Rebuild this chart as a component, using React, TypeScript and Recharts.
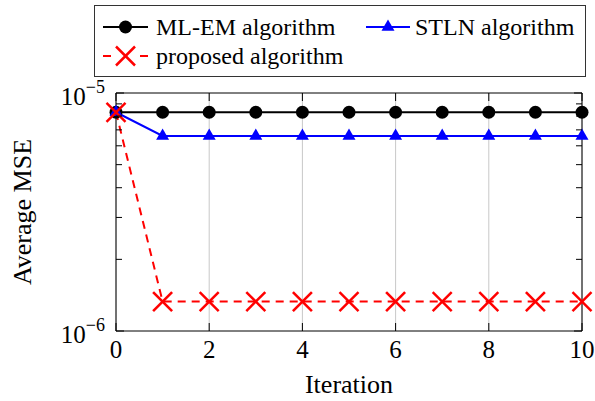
import React from "react";
import { LineChart, Line, XAxis, YAxis, CartesianGrid, Legend } from "recharts";

const FONT = "'Liberation Serif', 'Times New Roman', serif";

// iteration index on the x axis
const iterations = [0, 1, 2, 3, 4, 5, 6, 7, 8, 9, 10];
// average MSE per iteration
const mlEm = [8.3e-6, 8.3e-6, 8.3e-6, 8.3e-6, 8.3e-6, 8.3e-6, 8.3e-6, 8.3e-6, 8.3e-6, 8.3e-6, 8.3e-6];
const stln = [8.3e-6, 6.6e-6, 6.6e-6, 6.6e-6, 6.6e-6, 6.6e-6, 6.6e-6, 6.6e-6, 6.6e-6, 6.6e-6, 6.6e-6];
const proposed = [8.3e-6, 1.33e-6, 1.33e-6, 1.33e-6, 1.33e-6, 1.33e-6, 1.33e-6, 1.33e-6, 1.33e-6, 1.33e-6, 1.33e-6];

const xTicks = [0, 2, 4, 6, 8, 10];
const yTicks = [1e-6, 2e-6, 3e-6, 4e-6, 5e-6, 6e-6, 7e-6, 8e-6, 9e-6, 1e-5];
const yMajorLabels: Record<string, string> = { "0.000001": "−6", "0.00001": "−5" };

const data = iterations.map((it, i) => ({
  it,
  mlEm: mlEm[i],
  stln: stln[i],
  proposed: proposed[i],
}));

const isMajor = (v: number) => yMajorLabels[String(v)] !== undefined;

const BottomTick = ({ x, y, payload }: any) => (
  <g>
    <line x1={x} y1={y} x2={x} y2={y - 8} stroke="#000" strokeWidth={1} />
    <text x={x} y={y + 27} textAnchor="middle" fontSize={25} fontFamily={FONT} fill="#000">
      {payload.value}
    </text>
  </g>
);

const TopTick = ({ x, y }: any) => (
  <line x1={x} y1={y} x2={x} y2={y + 8} stroke="#000" strokeWidth={1} />
);

const LeftTick = ({ x, y, payload }: any) => {
  const major = isMajor(payload.value);
  return (
    <g>
      <line x1={x} y1={y} x2={x + (major ? 8 : 6)} y2={y} stroke="#000" strokeWidth={1} />
      {major && (
        <text x={x - 11} y={y + 12} textAnchor="end" fontSize={25} fontFamily={FONT} fill="#000">
          <tspan>10</tspan>
          <tspan dy={-12} fontSize={18}>
            {yMajorLabels[String(payload.value)]}
          </tspan>
        </text>
      )}
    </g>
  );
};

const RightTick = ({ x, y, payload }: any) => {
  const major = isMajor(payload.value);
  return <line x1={x} y1={y} x2={x - (major ? 8 : 6)} y2={y} stroke="#000" strokeWidth={1} />;
};

const CircleDot = ({ cx, cy }: any) => <circle cx={cx} cy={cy} r={6.5} fill="#000" />;

const TriangleDot = ({ cx, cy }: any) => {
  const r = 7.5;
  return (
    <polygon
      points={`${cx},${cy - r} ${cx - 0.866 * r},${cy + 0.5 * r} ${cx + 0.866 * r},${cy + 0.5 * r}`}
      fill="#0000ff"
    />
  );
};

const CrossDot = ({ cx, cy }: any) => {
  const s = 9.5;
  return (
    <g stroke="#ff0000" strokeWidth={2.5}>
      <line x1={cx - s} y1={cy - s} x2={cx + s} y2={cy + s} />
      <line x1={cx - s} y1={cy + s} x2={cx + s} y2={cy - s} />
    </g>
  );
};

const YTitle = ({ viewBox }: any) => {
  const cy = viewBox.y + viewBox.height / 2;
  const cx = 22;
  return (
    <text
      x={cx}
      y={cy}
      transform={`rotate(-90 ${cx} ${cy})`}
      textAnchor="middle"
      dominantBaseline="central"
      fontSize={26}
      fontFamily={FONT}
      fill="#000"
    >
      Average MSE
    </text>
  );
};

const LegendBox = () => (
  <div
    style={{
      width: 492,
      height: 72,
      border: "1px solid #333",
      boxSizing: "border-box",
      background: "#fff",
    }}
  >
    <svg width={490} height={70} style={{ display: "block" }}>
      <g fontFamily={FONT} fontSize={24} fill="#000">
        {/* ML-EM */}
        <line x1={8} y1={21} x2={53} y2={21} stroke="#000" strokeWidth={2} />
        <circle cx={30.5} cy={21} r={6.5} fill="#000" />
        <text x={61} y={29}>ML-EM algorithm</text>
        {/* STLN */}
        <line x1={271} y1={21} x2={315} y2={21} stroke="#0000ff" strokeWidth={2} />
        <polygon points="293,13.5 286.5,24.75 299.5,24.75" fill="#0000ff" />
        <text x={320} y={29}>STLN algorithm</text>
        {/* proposed */}
        <line x1={8} y1={50} x2={16} y2={50} stroke="#ff0000" strokeWidth={2} />
        <line x1={45} y1={50} x2={53} y2={50} stroke="#ff0000" strokeWidth={2} />
        <g stroke="#ff0000" strokeWidth={2.5}>
          <line x1={21} y1={40.5} x2={40} y2={59.5} />
          <line x1={21} y1={59.5} x2={40} y2={40.5} />
        </g>
        <text x={61} y={58}>proposed algorithm</text>
      </g>
    </svg>
  </div>
);

export default function App() {
  return (
    <div style={{ position: "absolute", left: 0, top: 0, background: "#fff" }}>
      <LineChart
        width={595}
        height={401}
        data={data}
        margin={{ top: 0, right: 0, bottom: 0, left: 0 }}
      >
        <CartesianGrid horizontal={false} stroke="#c8c8c8" strokeWidth={1} />
        <XAxis
          dataKey="it"
          type="number"
          domain={[0, 10]}
          ticks={xTicks}
          interval={0}
          height={70}
          tickSize={0}
          tickMargin={0}
          tickLine={false}
          axisLine={{ stroke: "#000", strokeWidth: 1 }}
          tick={<BottomTick />}
          label={{
            value: "Iteration",
            position: "insideBottom",
            offset: 8,
            fontSize: 26,
            fontFamily: FONT,
            fill: "#000",
          }}
        />
        <XAxis
          xAxisId="top"
          dataKey="it"
          type="number"
          orientation="top"
          domain={[0, 10]}
          ticks={xTicks}
          interval={0}
          height={93}
          tickSize={0}
          tickMargin={0}
          tickLine={false}
          axisLine={{ stroke: "#000", strokeWidth: 1 }}
          tick={<TopTick />}
        />
        <YAxis
          scale="log"
          type="number"
          domain={[1e-6, 1e-5]}
          allowDataOverflow
          ticks={yTicks}
          interval={0}
          width={116}
          tickSize={0}
          tickMargin={0}
          tickLine={false}
          axisLine={{ stroke: "#000", strokeWidth: 1 }}
          tick={<LeftTick />}
          label={{ content: <YTitle /> }}
        />
        <YAxis
          yAxisId="right"
          orientation="right"
          scale="log"
          type="number"
          domain={[1e-6, 1e-5]}
          allowDataOverflow
          ticks={yTicks}
          interval={0}
          width={13}
          tickSize={0}
          tickMargin={0}
          tickLine={false}
          axisLine={{ stroke: "#000", strokeWidth: 1 }}
          tick={<RightTick />}
        />
        <Legend
          verticalAlign="middle"
          align="center"
          wrapperStyle={{ left: 94, top: 5, width: 492, height: 72 }}
          content={<LegendBox />}
        />
        <Line
          dataKey="mlEm"
          stroke="#000"
          strokeWidth={2}
          dot={<CircleDot />}
          activeDot={false}
          isAnimationActive={false}
        />
        <Line
          dataKey="stln"
          stroke="#0000ff"
          strokeWidth={2}
          dot={<TriangleDot />}
          activeDot={false}
          isAnimationActive={false}
        />
        <Line
          dataKey="proposed"
          stroke="#ff0000"
          strokeWidth={2}
          strokeDasharray="8 6"
          dot={<CrossDot />}
          activeDot={false}
          isAnimationActive={false}
        />
      </LineChart>
    </div>
  );
}
